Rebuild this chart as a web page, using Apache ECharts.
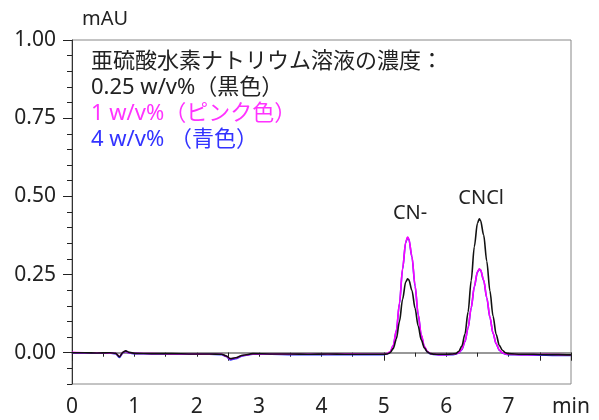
<!DOCTYPE html>
<html>
<head>
<meta charset="utf-8">
<script src="https://cdn.jsdelivr.net/npm/echarts@6/dist/echarts.min.js"></script>
<style>
  html, body { margin: 0; padding: 0; background: #fff; }
  #main { width: 599px; height: 420px; }
</style>
</head>
<body>
<div id="main"></div>
<script>
// 保持時間 (min)
var times = [0, 0.2, 0.4, 0.6, 0.7, 0.76, 0.82, 0.86, 0.92, 1.0,
    1.3, 1.6, 1.9, 2.2, 2.4, 2.47, 2.54, 2.62, 2.74, 2.9,
    3.2, 3.5, 3.8, 4.1, 4.4, 4.7, 4.9, 5.0, 5.05, 5.1,
    5.15, 5.2, 5.25, 5.3, 5.35, 5.38, 5.4, 5.45, 5.5, 5.55,
    5.6, 5.65, 5.7, 5.75, 5.8, 5.9, 6.0, 6.1, 6.15, 6.2,
    6.25, 6.3, 6.35, 6.4, 6.45, 6.5, 6.53, 6.55, 6.6, 6.65,
    6.7, 6.75, 6.8, 6.85, 6.9, 6.95, 7.0, 7.2, 7.4, 7.6,
    7.8, 8.0];

// 0.25 w/v% (黒色)
var blackValues = [0.000, 0.000, -0.001, 0.000, -0.002, -0.013, 0.002, 0.006, 0.001, -0.002,
    -0.003, -0.003, -0.004, -0.004, -0.005, -0.010, -0.019, -0.016, -0.008, -0.003,
    -0.004, -0.004, -0.005, -0.004, -0.005, -0.005, -0.005, -0.005, -0.004, 0.000,
    0.013, 0.044, 0.100, 0.171, 0.226, 0.236, 0.233, 0.199, 0.142, 0.085,
    0.041, 0.015, 0.002, -0.003, -0.0045, -0.005, -0.005, -0.004, -0.003, 0.004,
    0.021, 0.060, 0.130, 0.231, 0.339, 0.414, 0.428, 0.423, 0.376, 0.292,
    0.198, 0.117, 0.059, 0.024, 0.008, 0.000, -0.003, -0.005, -0.005, -0.006,
    -0.006, -0.007];

// 1 w/v% (ピンク色)
var pinkValues = [0.001, 0.000, 0.000, -0.001, -0.002, -0.012, 0.001, 0.005, 0.000, -0.002,
    -0.003, -0.004, -0.004, -0.005, -0.005, -0.011, -0.020, -0.017, -0.009, -0.004,
    -0.004, -0.005, -0.005, -0.005, -0.004, -0.005, -0.005, -0.005, -0.003, 0.003,
    0.023, 0.072, 0.159, 0.269, 0.354, 0.370, 0.364, 0.308, 0.215, 0.123,
    0.057, 0.020, 0.003, -0.003, -0.0045, -0.006, -0.006, -0.005, -0.0035, 0.000,
    0.011, 0.036, 0.080, 0.144, 0.212, 0.259, 0.268, 0.265, 0.232, 0.176,
    0.114, 0.063, 0.029, 0.009, 0.000, -0.004, -0.005, -0.006, -0.006, -0.005,
    -0.006, -0.007];

// 4 w/v% (青色)
var blueValues = [0.000, -0.001, -0.001, -0.001, -0.003, -0.015, 0.000, 0.004, -0.001, -0.003,
    -0.004, -0.004, -0.005, -0.005, -0.006, -0.012, -0.023, -0.019, -0.010, -0.005,
    -0.005, -0.006, -0.006, -0.006, -0.006, -0.006, -0.006, -0.006, -0.004, 0.002,
    0.022, 0.070, 0.157, 0.267, 0.352, 0.368, 0.363, 0.306, 0.213, 0.121,
    0.055, 0.018, 0.002, -0.004, -0.0055, -0.007, -0.007, -0.006, -0.0045, -0.001,
    0.010, 0.035, 0.079, 0.143, 0.211, 0.258, 0.267, 0.264, 0.231, 0.175,
    0.113, 0.062, 0.028, 0.008, -0.001, -0.005, -0.006, -0.007, -0.008, -0.008,
    -0.009, -0.009];

// 目盛り
var xLabelTicks = [0, 1, 2, 3, 4, 5, 6, 7, 8];
var xMinorTicks = [0, 0.5, 1, 1.5, 2, 2.5, 3, 3.5, 4, 4.5, 5, 5.5, 6, 6.5, 7, 7.5, 8];
var xMajorTicks = [0, 2.5, 5, 7.5, 8];
var yLabelTicks = [0, 0.25, 0.5, 0.75, 1];
var yMinorTicks = [-0.1, -0.05, 0, 0.05, 0.1, 0.15, 0.2, 0.25, 0.3, 0.35, 0.4, 0.45, 0.5,
    0.55, 0.6, 0.65, 0.7, 0.75, 0.8, 0.85, 0.9, 0.95, 1];

// ピーク名
var peakNames = ['CN-', 'CNCl'];
var peakNameTimes = [5.42, 6.56];
var peakNameValues = [0.447, 0.495];

var legendLines = ['亜硫酸水素ナトリウム溶液の濃度：', '0.25 w/v%（黒色）', '1 w/v%（ピンク色）', '4 w/v% （青色）'];
var legendColors = ['#222', '#222', '#ff33ff', '#3333ff'];

function zip(xs, ys) {
    var out = [];
    for (var i = 0; i < xs.length; i++) out.push([xs[i], ys[i]]);
    return out;
}

var font = '"Noto Sans", "Noto Sans CJK JP", sans-serif';
var myChart = echarts.init(document.getElementById('main'), null, {renderer: 'canvas'});

var graphics = [{
    type: 'text', left: 82, top: 9,
    style: {text: 'mAU', font: '20px ' + font, fill: '#222'}
}];
var legendTop = 51;
for (var i = 0; i < legendLines.length; i++) {
    graphics.push({
        type: 'text', left: 91, top: legendTop + i * 26,
        style: {text: legendLines[i], font: '22px ' + font, fill: legendColors[i]}
    });
}

var markData = [];
for (var j = 0; j < peakNames.length; j++) {
    markData.push({name: peakNames[j], coord: [peakNameTimes[j], peakNameValues[j]]});
}

var lineSeries = function (name, values, color, extra) {
    var s = {
        name: name,
        type: 'line',
        data: zip(times, values),
        showSymbol: false,
        smooth: 0.3,
        smoothMonotone: 'x',
        lineStyle: {color: color, width: 1.6},
        itemStyle: {color: color},
        silent: true,
        animation: false
    };
    if (extra) s.markPoint = extra;
    return s;
};

var option = {
    animation: false,
    grid: {
        left: 72, right: 28, top: 40, bottom: 36,
        show: true, borderColor: '#888', borderWidth: 1
    },
    graphic: graphics,
    xAxis: [{
        type: 'value', min: 0, max: 8, interval: 1,
        position: 'bottom',
        axisLine: {show: true, lineStyle: {color: '#777', width: 1.5}},
        axisTick: {show: true, customValues: xMinorTicks, length: 4, lineStyle: {color: '#222'}},
        axisLabel: {
            customValues: xLabelTicks, margin: 13,
            fontFamily: font, fontSize: 21, color: '#222',
            formatter: function (v) { return v === 8 ? 'min' : String(v); }
        },
        splitLine: {show: false}
    }, {
        type: 'value', min: 0, max: 8, interval: 1,
        position: 'bottom',
        axisLine: {show: false},
        axisTick: {show: true, customValues: xMajorTicks, length: 8, lineStyle: {color: '#222'}},
        axisLabel: {show: false},
        splitLine: {show: false}
    }],
    yAxis: [{
        type: 'value', min: -0.1, max: 1, interval: 0.05,
        position: 'left',
        axisLine: {show: true, lineStyle: {color: '#333', width: 1}},
        axisTick: {show: true, customValues: yLabelTicks, length: 9, lineStyle: {color: '#222'}},
        axisLabel: {
            customValues: yLabelTicks, margin: 16,
            fontFamily: font, fontSize: 21, color: '#222',
            formatter: function (v) { return v.toFixed(2); }
        },
        splitLine: {show: false}
    }, {
        type: 'value', min: -0.1, max: 1, interval: 0.05,
        position: 'left',
        axisLine: {show: false},
        axisTick: {show: true, customValues: yMinorTicks, length: 5, lineStyle: {color: '#222'}},
        axisLabel: {show: false},
        splitLine: {show: false}
    }],
    series: [
        lineSeries('4 w/v%', blueValues, '#2b2bff'),
        lineSeries('1 w/v%', pinkValues, '#ff00ff'),
        lineSeries('0.25 w/v%', blackValues, '#111', {
            symbol: 'circle', symbolSize: 0,
            label: {show: true, position: 'inside', formatter: '{b}', fontFamily: font, fontSize: 20, color: '#222'},
            data: markData
        })
    ]
};

myChart.setOption(option);
</script>
</body>
</html>
